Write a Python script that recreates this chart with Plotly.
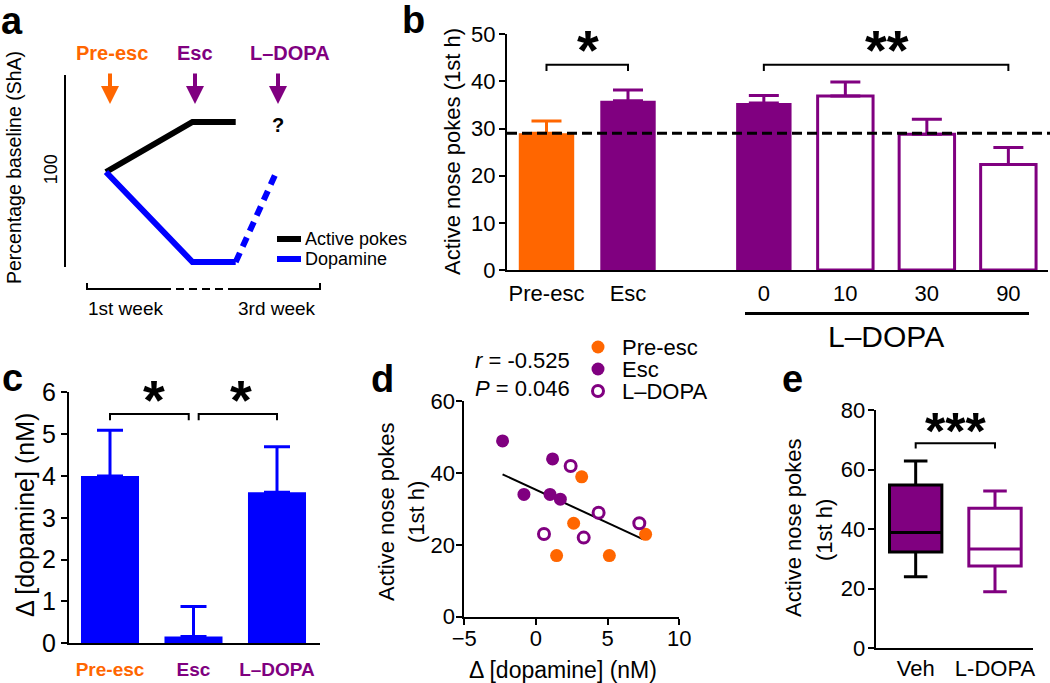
import plotly.graph_objects as go

W, H = 1050, 683
def fx(p): return p / W
def fy(p): return 1 - p / H
def dom_x(a, b): return [a / W, b / W]
def dom_y(top, bottom): return [1 - bottom / H, 1 - top / H]

ORANGE = '#FF6600'; PURPLE = '#800080'; BLUE = '#0000FF'; BLACK = '#000000'
FONT = 'Liberation Sans, Arial, sans-serif'

# ---------------- data ----------------
# panel a (schematic, % baseline over time units)
a_time = [0, 1, 1.5]
a_active = [100, 130, 130]
a_dopamine = [100, 46, 46]
a_ldopa_time = [1.5, 1.97]
a_ldopa_dopamine = [46, 100]

# panel b
b_labels = ['Pre-esc', 'Esc', '0', '10', '30', '90']
b_means = [29.0, 35.9, 35.4, 36.9, 28.8, 22.4]
b_sem = [2.6, 2.3, 1.6, 3.0, 3.2, 3.6]
b_baseline = 29.0

# panel c
c_labels = ['Pre-esc', 'Esc', 'L–DOPA']
c_means = [4.0, 0.16, 3.61]
c_sem = [1.09, 0.72, 1.09]

# panel d
d_pre_x = [3.19, 2.63, 1.44, 5.12, 7.65]
d_pre_y = [38.9, 26.0, 17.0, 17.0, 22.9]
d_esc_x = [-2.33, 1.16, -0.84, 0.98, 1.70]
d_esc_y = [48.9, 43.9, 34.0, 34.0, 32.7]
d_ldopa_x = [2.42, 0.56, 3.33, 4.37, 7.21]
d_ldopa_y = [41.9, 23.0, 22.0, 28.9, 26.0]
d_fit_x = [-2.33, 7.45]
d_fit_y = [39.6, 21.6]
d_r = '-0.525'
d_p = '0.046'

# panel e (box stats)
e_labels = ['Veh', 'L-DOPA']
e_min = [24.0, 19.0]
e_q1 = [32.3, 27.6]
e_med = [38.9, 33.3]
e_q3 = [54.8, 47.0]
e_max = [62.9, 52.8]

# ---------------- figure ----------------
fig = go.Figure()

# panel a
fig.add_trace(go.Scatter(x=a_time, y=a_active, mode='lines', line=dict(color=BLACK, width=6),
                         xaxis='x', yaxis='y', showlegend=False, hoverinfo='skip'))
fig.add_trace(go.Scatter(x=a_time, y=a_dopamine, mode='lines', line=dict(color=BLUE, width=6),
                         xaxis='x', yaxis='y', showlegend=False, hoverinfo='skip'))
fig.add_trace(go.Scatter(x=a_ldopa_time, y=a_ldopa_dopamine, mode='lines',
                         line=dict(color=BLUE, width=6, dash='10px,7px'),
                         xaxis='x', yaxis='y', showlegend=False, hoverinfo='skip'))

# panel b
gap = 2 / 3
b_pos = [0, 1] + [2 + gap + i for i in range(4)]
b_fill = [ORANGE, PURPLE, PURPLE, 'white', 'white', 'white']
b_edge = [ORANGE, PURPLE, PURPLE, PURPLE, PURPLE, PURPLE]
b_edgew = [0, 0, 0, 3, 3, 3]
for i in range(len(b_labels)):
    fig.add_trace(go.Bar(x=[b_pos[i]], y=[b_means[i]], width=0.68,
                         marker=dict(color=b_fill[i], line=dict(color=b_edge[i], width=b_edgew[i])),
                         error_y=dict(type='data', symmetric=False, array=[b_sem[i]], arrayminus=[0],
                                      color=b_edge[i], thickness=3, width=15),
                         xaxis='x2', yaxis='y2', showlegend=False, hoverinfo='skip'))

# panel c
fig.add_trace(go.Bar(x=[0, 1, 2], y=c_means, width=0.695, marker=dict(color=BLUE, line=dict(width=0)),
                     error_y=dict(type='data', symmetric=False, array=c_sem, arrayminus=[0, 0, 0],
                                  color=BLUE, thickness=3, width=13),
                     xaxis='x3', yaxis='y3', showlegend=False, hoverinfo='skip'))

# panel d
fig.add_trace(go.Scatter(x=d_fit_x, y=d_fit_y, mode='lines', line=dict(color=BLACK, width=2),
                         xaxis='x4', yaxis='y4', showlegend=False, hoverinfo='skip'))
fig.add_trace(go.Scatter(x=d_pre_x, y=d_pre_y, mode='markers', marker=dict(color=ORANGE, size=13),
                         xaxis='x4', yaxis='y4', showlegend=False, hoverinfo='skip', cliponaxis=False))
fig.add_trace(go.Scatter(x=d_esc_x, y=d_esc_y, mode='markers', marker=dict(color=PURPLE, size=13),
                         xaxis='x4', yaxis='y4', showlegend=False, hoverinfo='skip', cliponaxis=False))
fig.add_trace(go.Scatter(x=d_ldopa_x, y=d_ldopa_y, mode='markers',
                         marker=dict(color='white', size=11, line=dict(color=PURPLE, width=3)),
                         xaxis='x4', yaxis='y4', showlegend=False, hoverinfo='skip', cliponaxis=False))

# panel e
e_fill = [PURPLE, 'white']
e_line = [BLACK, PURPLE]
for i in range(2):
    fig.add_trace(go.Box(x=[i], q1=[e_q1[i]], median=[e_med[i]], q3=[e_q3[i]],
                         lowerfence=[e_min[i]], upperfence=[e_max[i]], width=0.66, whiskerwidth=0.45,
                         fillcolor=e_fill[i], line=dict(color=e_line[i], width=3), boxpoints=False,
                         xaxis='x5', yaxis='y5', showlegend=False, hoverinfo='skip'))

# ---------------- axes ----------------
def ax(**kw):
    d = dict(showline=True, linecolor=BLACK, linewidth=2, showgrid=False, zeroline=False,
             ticks='outside', ticklen=6, tickwidth=2, tickcolor=BLACK, automargin=False,
             tickfont=dict(family=FONT, size=18, color=BLACK), fixedrange=True)
    d.update(kw)
    return d

def tf(size, **kw):
    return dict(family=FONT, size=size, color=BLACK, **kw)

c_ticktext = ["<b><span style='color:%s'>%s</span></b>" % (col, lab)
              for col, lab in zip([ORANGE, PURPLE, PURPLE], c_labels)]

layout_axes = dict(
    xaxis=dict(domain=dom_x(66, 330), range=[-0.462, 2.590], visible=False, anchor='y',
               fixedrange=True, automargin=False),
    yaxis=ax(domain=dom_y(75, 267), range=[43, 158.2], tickvals=[100], ticks='', tickangle=-90,
             tickfont=tf(18), anchor='x'),
    xaxis2=ax(domain=dom_x(506.8, 1048), range=[-0.487, 6.153], tickvals=b_pos, ticktext=b_labels,
              ticks='', anchor='y2', tickfont=tf(22), ticklabelstandoff=3),
    yaxis2=ax(domain=dom_y(34.3, 270), range=[0, 50], dtick=10, tick0=0, anchor='x2', tickfont=tf(22),
              ticklabelstandoff=-1),
    xaxis3=ax(domain=dom_x(69, 320), range=[-0.491, 2.515], tickvals=[0, 1, 2], ticktext=c_ticktext,
              ticks='', anchor='y3', tickfont=tf(19), ticklabelstandoff=8),
    yaxis3=ax(domain=dom_y(392.3, 643.3), range=[0, 6], dtick=1, tick0=0, anchor='x3', tickfont=tf(25)),
    xaxis4=ax(domain=dom_x(464.3, 679.3), range=[-5, 10], tickvals=[-5, 0, 5, 10], anchor='y4',
              tickfont=tf(22), ticklabelstandoff=-5),
    yaxis4=ax(domain=dom_y(401, 616.7), range=[0, 60], dtick=20, tick0=0, anchor='x4', tickfont=tf(22),
              ticklabelstandoff=-3),
    xaxis5=ax(domain=dom_x(875.7, 1033), range=[-0.504, 1.479], tickvals=[0, 1], ticktext=e_labels,
              ticks='', anchor='y5', tickfont=tf(22), ticklabelstandoff=-1),
    yaxis5=ax(domain=dom_y(410, 648.3), range=[0, 80], dtick=20, tick0=0, anchor='x5', tickfont=tf(22),
              ticklabelstandoff=-2),
)

# ---------------- annotations ----------------
ann = []
def text(x, y, s, size, bold=False, color=BLACK, angle=0, xanchor='center'):
    t = s
    if bold:
        t = '<b>%s</b>' % t
    ann.append(dict(x=fx(x), y=fy(y), xref='paper', yref='paper', text=t, showarrow=False,
                    font=dict(family=FONT, size=size, color=color), textangle=angle,
                    xanchor=xanchor, yanchor='middle'))

# panel letters
for (lx, ly, L) in [(12, 21, 'a'), (413, 20, 'b'), (12, 378, 'c'), (382, 379, 'd'), (792, 379, 'e')]:
    text(lx, ly, L, 38, bold=True)

# panel a
for (x, col) in [(110, ORANGE), (195, PURPLE), (278, PURPLE)]:
    ann.append(dict(x=fx(x), y=fy(104), xref='paper', yref='paper', ax=0, ay=-32, text='',
                    showarrow=True, arrowhead=2, arrowsize=0.9, arrowwidth=4, arrowcolor=col))
text(112, 53, 'Pre-esc', 20, bold=True, color=ORANGE)
text(195, 53, 'Esc', 20, bold=True, color=PURPLE)
text(290, 53, 'L–DOPA', 20, bold=True, color=PURPLE)
text(278, 125, '?', 20, bold=True)
text(14, 168, 'Percentage baseline (ShA)', 19.5, angle=-90)
text(125, 308, '1st week', 19)
text(277, 308, '3rd week', 19)
text(303, 239, 'Active pokes', 18, xanchor='left')
text(303, 259, 'Dopamine', 18, xanchor='left')

# panel b
text(452, 152, 'Active nose pokes (1st h)', 22, angle=-90)
text(588, 49, '*', 56, bold=True)
text(887, 49, '**', 56, bold=True)
text(886, 337, 'L–DOPA', 30)

# panel c
text(25, 515, 'Δ [dopamine] (nM)', 25, angle=-90)
text(154, 399, '*', 56, bold=True)
text(241, 399, '*', 56, bold=True)

# panel d
text(386, 512, 'Active nose pokes', 22, angle=-90)
text(416, 512, '(1st h)', 22, angle=-90)
text(563, 670, 'Δ [dopamine] (nM)', 23)
text(572, 360, '<i>r</i> = %s' % d_r, 22, xanchor='right')
text(572, 388, '<i>P</i> = %s' % d_p, 22, xanchor='right')
text(620, 347, 'Pre-esc', 22, xanchor='left')
text(620, 369, 'Esc', 22, xanchor='left')
text(620, 391, 'L–DOPA', 22, xanchor='left')

# panel e
text(793, 528, 'Active nose pokes', 22, angle=-90)
text(824, 530, '(1st h)', 22, angle=-90)
text(955, 431, '***', 52, bold=True)

# ---------------- shapes ----------------
shapes = []
def pline(x0, y0, x1, y1, width=2, color=BLACK, dash='solid'):
    shapes.append(dict(type='line', xref='paper', yref='paper', x0=fx(x0), y0=fy(y0), x1=fx(x1), y1=fy(y1),
                       line=dict(color=color, width=width, dash=dash), layer='above'))

# panel a time axis
pline(87, 289, 163, 289)
pline(163, 289, 235, 289, dash='8px,5px')
pline(235, 289, 320, 289)
pline(87, 283, 87, 290)
pline(320, 283, 320, 290)
# panel a legend
pline(277, 239, 301, 239, width=6)
pline(277, 259, 301, 259, width=6, color=BLUE)

# panel b baseline dashed line
shapes.append(dict(type='line', xref='paper', yref='y2', x0=fx(507), x1=fx(1050), y0=b_baseline, y1=b_baseline,
                   line=dict(color=BLACK, width=3, dash='10px,5px'), layer='above'))
# L-DOPA underline
pline(745, 313.5, 1029, 313.5, width=3)

def bracket(xr, yr, x0, x1, ytop, ylow):
    shapes.append(dict(type='path', xref=xr, yref=yr,
                       path='M %s,%s L %s,%s L %s,%s L %s,%s' % (x0, ylow, x0, ytop, x1, ytop, x1, ylow),
                       line=dict(color=BLACK, width=2), layer='above'))

bracket('x2', 'y2', b_pos[0], b_pos[1], 43.55, 42.2)
bracket('x2', 'y2', b_pos[2], b_pos[5], 43.55, 42.2)
bracket('x3', 'y3', 0, 0.943, 5.48, 5.33)
bracket('x3', 'y3', 1.062, 2, 5.48, 5.33)
bracket('x5', 'y5', 0, 1, 68.8, 67.1)

# panel d legend keys
def circ(cx, cy, r, fill, line_col, lw):
    shapes.append(dict(type='circle', xref='paper', yref='paper', x0=fx(cx - r), x1=fx(cx + r),
                       y0=fy(cy + r), y1=fy(cy - r), fillcolor=fill,
                       line=dict(color=line_col, width=lw)))
circ(598, 347, 6.5, ORANGE, ORANGE, 0)
circ(598, 369, 6.5, PURPLE, PURPLE, 0)
circ(598, 391, 5.5, 'white', PURPLE, 3)

fig.update_layout(
    template='none',
    width=W, height=H, autosize=False,
    margin=dict(l=0, r=0, t=0, b=0, pad=0),
    paper_bgcolor='white', plot_bgcolor='rgba(0,0,0,0)',
    barmode='overlay', showlegend=False, hovermode=False,
    font=dict(family=FONT, color=BLACK),
    annotations=ann, shapes=shapes,
    **layout_axes
)

fig.write_html("out.html", config={'displayModeBar': False},
               post_script="document.body.style.margin='0px';document.body.style.overflow='hidden';")
